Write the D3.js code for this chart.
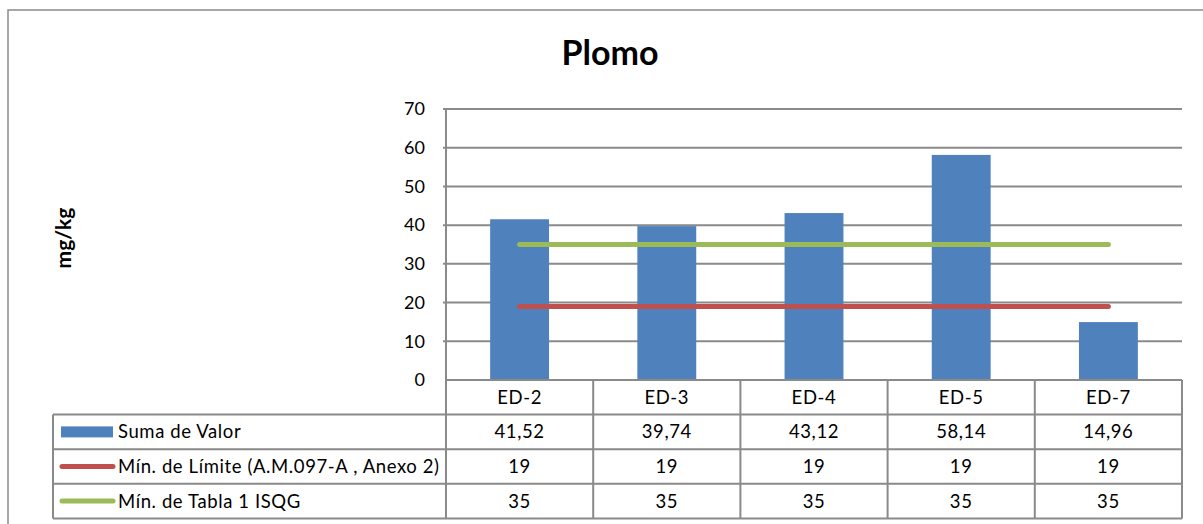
<!DOCTYPE html>
<html>
<head>
<meta charset="utf-8">
<script src="https://cdn.jsdelivr.net/npm/d3@7"></script>
<style>
  body { margin: 0; background: #fff; }
  text { font-family: Lato, "Liberation Sans", sans-serif; fill: #000; }
  .tbl { letter-spacing: 0.6px; }
</style>
</head>
<body>
<div id="chart"></div>
<script>
// data
var categories = ["ED-2", "ED-3", "ED-4", "ED-5", "ED-7"];
var sumaValor = [41.52, 39.74, 43.12, 58.14, 14.96];
var minLimite = [19, 19, 19, 19, 19];
var minIsqg = [35, 35, 35, 35, 35];
var yTicks = [0, 10, 20, 30, 40, 50, 60, 70];
var seriesNames = ["Suma de Valor", "Mín. de Límite (A.M.097-A , Anexo 2)", "Mín. de Tabla 1 ISQG"];
var seriesColors = ["#4F81BD", "#C0504D", "#9BBB59"];

var W = 1203, H = 524;
var plot = {left: 446, right: 1182, top: 109, bottom: 380};
var rowH = 34.6;
var legendLeft = 53;
var gridColor = "#8a8a8a";
var tableFont = "18.5px";

var svg = d3.select("#chart").append("svg")
    .attr("width", W)
    .attr("height", H);

// chart frame (runs off the right and bottom)
svg.append("rect")
    .attr("x", 8).attr("y", 10)
    .attr("width", 1400).attr("height", 700)
    .attr("fill", "none")
    .attr("stroke", "#8a8a8a")
    .attr("stroke-width", 1.5);

// scales
var x = d3.scaleBand()
    .domain(categories)
    .range([plot.left, plot.right])
    .paddingInner(0.6)
    .paddingOuter(0.3);

var cell = d3.scaleBand()
    .domain(categories)
    .range([plot.left, plot.right])
    .padding(0);

var y = d3.scaleLinear()
    .domain([0, 70])
    .range([plot.bottom, plot.top]);

// gridlines
svg.append("g")
    .selectAll("line")
    .data(yTicks.slice(1))
    .enter().append("line")
    .attr("x1", plot.left - 3)
    .attr("x2", plot.right)
    .attr("y1", function(d) { return y(d); })
    .attr("y2", function(d) { return y(d); })
    .attr("stroke", gridColor)
    .attr("stroke-width", 2);

// y axis line
svg.append("line")
    .attr("x1", plot.left).attr("x2", plot.left)
    .attr("y1", plot.top).attr("y2", plot.bottom)
    .attr("stroke", gridColor).attr("stroke-width", 2);

// y tick labels
svg.append("g")
    .selectAll("text")
    .data(yTicks)
    .enter().append("text")
    .attr("x", 425)
    .attr("y", function(d) { return y(d); })
    .attr("dy", "0.35em")
    .attr("text-anchor", "end")
    .style("font-size", "18px")
    .text(function(d) { return d; });

// bars
svg.append("g")
    .selectAll("rect")
    .data(sumaValor)
    .enter().append("rect")
    .attr("x", function(d, i) { return x(categories[i]); })
    .attr("width", x.bandwidth())
    .attr("y", function(d) { return y(d); })
    .attr("height", function(d) { return y(0) - y(d); })
    .attr("fill", seriesColors[0]);

// lines
var line = d3.line()
    .x(function(d, i) { return x(categories[i]) + x.bandwidth() / 2; })
    .y(function(d) { return y(d); });

[minLimite, minIsqg].forEach(function(s, k) {
  svg.append("path")
      .datum(s)
      .attr("d", line)
      .attr("fill", "none")
      .attr("stroke", seriesColors[k + 1])
      .attr("stroke-width", 5)
      .attr("stroke-linecap", "round");
});

// data table
var table = svg.append("g");
var tableTop = plot.bottom;
var tableBottom = tableTop + 4 * rowH;

// horizontal rules
table.append("line")
    .attr("x1", plot.left).attr("x2", plot.right)
    .attr("y1", tableTop).attr("y2", tableTop)
    .attr("stroke", gridColor).attr("stroke-width", 2);
[1, 2, 3, 4].forEach(function(r) {
  table.append("line")
      .attr("x1", legendLeft).attr("x2", plot.right)
      .attr("y1", tableTop + r * rowH).attr("y2", tableTop + r * rowH)
      .attr("stroke", gridColor).attr("stroke-width", 2);
});

// vertical rules
table.append("line")
    .attr("x1", legendLeft).attr("x2", legendLeft)
    .attr("y1", tableTop + rowH).attr("y2", tableBottom)
    .attr("stroke", gridColor).attr("stroke-width", 2);
categories.forEach(function(c) {
  table.append("line")
      .attr("x1", cell(c)).attr("x2", cell(c))
      .attr("y1", tableTop).attr("y2", tableBottom)
      .attr("stroke", gridColor).attr("stroke-width", 2);
});
table.append("line")
    .attr("x1", plot.right).attr("x2", plot.right)
    .attr("y1", tableTop).attr("y2", tableBottom)
    .attr("stroke", gridColor).attr("stroke-width", 2);

// category header row
table.selectAll(".cat")
    .data(categories)
    .enter().append("text")
    .attr("class", "cat tbl")
    .attr("x", function(d) { return cell(d) + cell.bandwidth() / 2; })
    .attr("y", tableTop + rowH / 2)
    .attr("dy", "0.35em")
    .attr("text-anchor", "middle")
    .style("font-size", tableFont)
    .text(function(d) { return d; });

// value rows
var fmt = function(v) { return String(v).replace(".", ","); };
[sumaValor, minLimite, minIsqg].forEach(function(s, r) {
  var cy = tableTop + (r + 1.5) * rowH;
  table.append("g").selectAll("text")
      .data(s)
      .enter().append("text")
      .attr("class", "tbl")
      .attr("x", function(d, i) { return cell(categories[i]) + cell.bandwidth() / 2; })
      .attr("y", cy)
      .attr("dy", "0.35em")
      .attr("text-anchor", "middle")
      .style("font-size", tableFont)
      .text(fmt);

  // legend key
  if (r === 0) {
    table.append("rect")
        .attr("x", 61).attr("y", cy - 5.5)
        .attr("width", 52).attr("height", 11)
        .attr("fill", seriesColors[0]);
  } else {
    table.append("line")
        .attr("x1", 62).attr("x2", 113)
        .attr("y1", cy).attr("y2", cy)
        .attr("stroke", seriesColors[r])
        .attr("stroke-width", 5)
        .attr("stroke-linecap", "round");
  }
  table.append("text")
      .attr("class", "tbl")
      .attr("x", 118)
      .attr("y", cy)
      .attr("dy", "0.35em")
      .style("font-size", tableFont)
      .text(seriesNames[r]);
});

// title
svg.append("text")
    .attr("x", 610)
    .attr("y", 65)
    .attr("text-anchor", "middle")
    .style("font-size", "34px")
    .style("font-weight", "bold")
    .text("Plomo");

// y axis title
svg.append("text")
    .attr("transform", "translate(71,238) rotate(-90)")
    .attr("text-anchor", "middle")
    .style("font-size", "21px")
    .style("font-weight", "bold")
    .text("mg/kg");
</script>
</body>
</html>
